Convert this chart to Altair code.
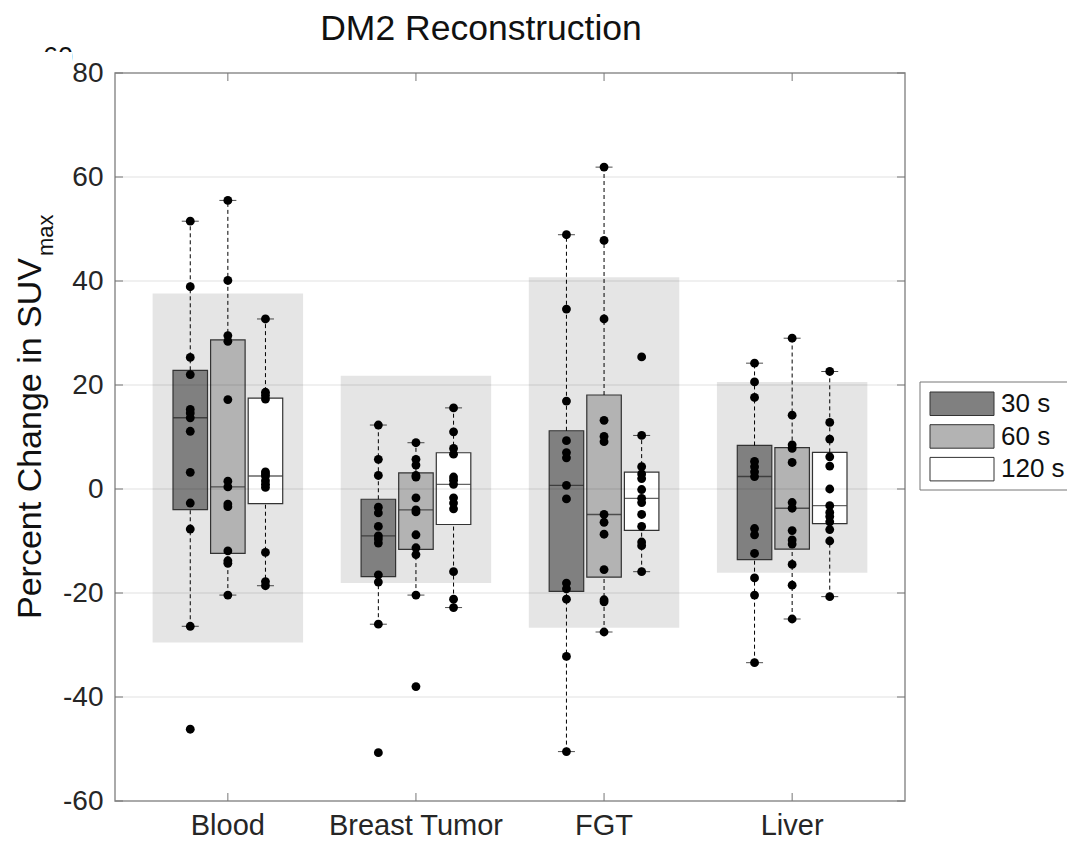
import altair as alt
import pandas as pd
import math

# ---------------- data ----------------
categories = ["Blood", "Breast Tumor", "FGT", "Liver"]
durations = ["30 s", "60 s", "120 s"]
box_fills = ["#808080", "#b3b3b3", "#ffffff"]

blood_30 = [51.5, 38.9, 25.3, 22.0, 15.3, 14.6, 13.7, 11.1, 3.2, -2.7, -7.7, -26.4, -46.2]
blood_60 = [55.5, 40.1, 29.5, 28.4, 17.2, 1.5, 0.4, -2.9, -3.4, -11.9, -13.8, -14.3, -20.4]
blood_120 = [32.7, 18.6, 18.0, 17.3, 3.3, 2.9, 2.5, 1.6, 0.9, 0.3, -12.2, -17.8, -18.6]
tumor_30 = [12.3, 5.7, 2.6, -3.5, -4.6, -7.2, -9.0, -9.6, -10.4, -16.5, -17.9, -26.0, -50.7]
tumor_60 = [8.9, 5.7, 4.6, 2.6, 2.3, -1.7, -4.0, -4.4, -8.8, -11.3, -12.6, -20.4, -38.0]
tumor_120 = [15.6, 11.0, 7.8, 6.7, 2.3, 1.7, 0.9, -1.7, -2.7, -3.8, -15.9, -21.2, -22.8]
fgt_30 = [48.9, 34.6, 16.9, 9.3, 7.0, 6.0, 0.7, -1.9, -18.1, -19.2, -21.2, -32.2, -50.5]
fgt_60 = [61.9, 47.8, 32.7, 13.2, 10.1, 9.1, -4.9, -6.4, -8.7, -15.5, -21.3, -21.7, -27.5]
fgt_120 = [25.4, 10.3, 4.3, 2.9, 2.0, -0.1, -1.8, -2.6, -4.9, -7.2, -10.2, -10.9, -15.9]
liver_30 = [24.2, 20.6, 17.6, 5.3, 4.3, 3.3, 2.4, -7.6, -8.8, -12.4, -17.1, -20.4, -33.4]
liver_60 = [29.0, 14.2, 8.5, 7.8, 5.1, -2.6, -3.7, -8.0, -9.8, -10.6, -14.5, -18.5, -25.0]
liver_120 = [22.6, 12.8, 9.6, 6.2, 4.4, 0.0, -3.2, -4.5, -5.3, -6.3, -7.8, -10.0, -20.7]

# shaded reference band per region
range_lo = [-29.5, -18.1, -26.7, -16.1]
range_hi = [37.6, 21.8, 40.7, 20.6]

y_ticks = [-60, -40, -20, 0, 20, 40, 60, 80]
grid_vals = [-40, -20, 0, 20, 40, 60]

series = {
    ("Blood", "30 s"): blood_30, ("Blood", "60 s"): blood_60, ("Blood", "120 s"): blood_120,
    ("Breast Tumor", "30 s"): tumor_30, ("Breast Tumor", "60 s"): tumor_60, ("Breast Tumor", "120 s"): tumor_120,
    ("FGT", "30 s"): fgt_30, ("FGT", "60 s"): fgt_60, ("FGT", "120 s"): fgt_120,
    ("Liver", "30 s"): liver_30, ("Liver", "60 s"): liver_60, ("Liver", "120 s"): liver_120,
}


def mquant(v, p):
    s = sorted(v)
    n = len(s)
    pos = p * n + 0.5
    if pos <= 1:
        return s[0]
    if pos >= n:
        return s[-1]
    k = int(math.floor(pos))
    f = pos - k
    return s[k - 1] + f * (s[k] - s[k - 1])


pts_rows, stat_rows = [], []
for (cat, dur), vals in series.items():
    for v in vals:
        pts_rows.append({"category": cat, "duration": dur, "value": v})
    q1, med, q3 = mquant(vals, 0.25), mquant(vals, 0.5), mquant(vals, 0.75)
    iqr = q3 - q1
    wlo = min(v for v in vals if v >= q1 - 1.5 * iqr)
    whi = max(v for v in vals if v <= q3 + 1.5 * iqr)
    stat_rows.append({"category": cat, "duration": dur, "q1": q1, "med": med,
                      "q3": q3, "wlo": wlo, "whi": whi})

pts = pd.DataFrame(pts_rows)
stats = pd.DataFrame(stat_rows)
ranges = pd.DataFrame({"category": categories, "lo": range_lo, "hi": range_hi})
grid = pd.DataFrame({"g": grid_vals})
yt = pd.DataFrame({"t": y_ticks})
xt = pd.DataFrame({"category": categories})

W, H = 790, 728
FONT = "Liberation Sans"
TXT = "#262626"

xscale = alt.Scale(domain=categories, paddingInner=0, paddingOuter=0.1)
xaxis = alt.Axis(labelFontSize=29, labelFont=FONT, labelColor=TXT, labelAngle=0,
                 labelPadding=10, ticks=False, domain=False, grid=False, title=None)
BAND = W / 4.2
STEP = 37.6
offscale = alt.Scale(domain=durations, paddingInner=0.082, paddingOuter=0.041,
                     range=[BAND / 2 - 1.5 * STEP, BAND / 2 + 1.5 * STEP])
yscale = alt.Scale(domain=[-60, 80], nice=False, zero=False)
yaxis = alt.Axis(values=y_ticks, labelFontSize=28, labelFont=FONT, labelColor=TXT,
                 labelExpr="'' + datum.value",
                 labelPadding=12, ticks=False, domain=False, grid=False, title=None)


def X():
    return alt.X("category:N", scale=xscale, axis=xaxis, title=None)


def XO():
    return alt.XOffset("duration:N", scale=offscale)


def Y(f):
    return alt.Y(f"{f}:Q", scale=yscale, axis=yaxis, title=None)


def Y2(f):
    return alt.Y2(f"{f}:Q")


shade = alt.Chart(ranges).mark_bar(fill="black", opacity=0.1,
                                   width=alt.RelativeBandSize(0.8)).encode(
    x=X(), y=Y("lo"), y2=Y2("hi"))

gridl = alt.Chart(grid).mark_rule(color="black", opacity=0.08, strokeWidth=1.5).encode(
    y=Y("g"), x=alt.value(0), x2=alt.value(W))

base = alt.Chart(stats)
boxes = base.mark_bar(stroke="#333333", strokeWidth=1.2).encode(
    x=X(), xOffset=XO(), y=Y("q1"), y2=Y2("q3"),
    fill=alt.Fill("duration:N", scale=alt.Scale(domain=durations, range=box_fills), legend=None))
medians = base.mark_tick(orient="horizontal", size=34, thickness=1.3, color="#222222").encode(
    x=X(), xOffset=XO(), y=Y("med"))
wh_up = base.mark_rule(color="black", strokeWidth=1, strokeDash=[4, 3]).encode(
    x=X(), xOffset=XO(), y=Y("q3"), y2=Y2("whi"))
wh_dn = base.mark_rule(color="black", strokeWidth=1, strokeDash=[4, 3]).encode(
    x=X(), xOffset=XO(), y=Y("wlo"), y2=Y2("q1"))
cap_up = base.mark_tick(orient="horizontal", size=17, thickness=1, color="black").encode(
    x=X(), xOffset=XO(), y=Y("whi"))
cap_dn = base.mark_tick(orient="horizontal", size=17, thickness=1, color="black").encode(
    x=X(), xOffset=XO(), y=Y("wlo"))
dots = alt.Chart(pts).mark_circle(color="black", opacity=1, size=78).encode(
    x=X(), xOffset=XO(), y=Y("value"))

TICKC = "#777777"
tk_l = alt.Chart(yt).mark_rule(color=TICKC, strokeWidth=1).encode(
    y=Y("t"), x=alt.value(0), x2=alt.value(8))
tk_r = alt.Chart(yt).mark_rule(color=TICKC, strokeWidth=1).encode(
    y=Y("t"), x=alt.value(W - 8), x2=alt.value(W))
tk_b = alt.Chart(xt).mark_rule(color=TICKC, strokeWidth=1).encode(
    x=X(), y=alt.value(H - 8), y2=alt.value(H))
tk_t = alt.Chart(xt).mark_rule(color=TICKC, strokeWidth=1).encode(
    x=X(), y=alt.value(0), y2=alt.value(8))


def label(text, x, y, size, align="left", baseline="alphabetic", angle=0):
    kw = dict(font=FONT, fontSize=size, color="#111111", align=align, baseline=baseline)
    if angle:
        kw["angle"] = angle
    return alt.Chart(pd.DataFrame({"t": [text]})).mark_text(**kw).encode(
        text="t:N", x=alt.value(x), y=alt.value(y))


title = label("DM2 Reconstruction", 366, -33, 35.5, align="center")
ytitle = label("Percent Change in SUV", -74, 185, 34, align="right", angle=270)
ysub = label("max", -62, 183, 22, align="left", angle=270)

# clipped stray "60" at top-left
stray = label("60", -42, -7, 27, align="right")
stray_mask = alt.Chart(pd.DataFrame({"t": [0]})).mark_rect(fill="white").encode(
    x=alt.value(-80), x2=alt.value(-43), y=alt.value(-21), y2=alt.value(-3))

# legend (manual)
leg_frame = alt.Chart(pd.DataFrame({"t": [0]})).mark_rect(
    fill="white", stroke="#777777", strokeWidth=1).encode(
    x=alt.value(805), x2=alt.value(980), y=alt.value(309), y2=alt.value(417))
leg_layers = [leg_frame]
for i, (d, c) in enumerate(zip(durations, box_fills)):
    y0 = 319 + i * 32.7
    leg_layers.append(alt.Chart(pd.DataFrame({"t": [d]})).mark_rect(
        fill=c, stroke="#333333", strokeWidth=1).encode(
        x=alt.value(815), x2=alt.value(879), y=alt.value(y0), y2=alt.value(y0 + 23.5)))
    leg_layers.append(label(d, 886, y0 + 12, 26, align="left", baseline="middle"))

chart = alt.layer(
    shade, boxes, medians, gridl, wh_up, wh_dn, cap_up, cap_dn, dots,
    tk_l, tk_r, tk_b, tk_t, title, ytitle, ysub, stray, stray_mask, *leg_layers
).properties(
    width=W, height=H,
    autosize=alt.AutoSizeParams(type="none"),
    padding={"left": 115, "top": 73, "right": 162, "bottom": 42},
    background="white",
).configure_view(stroke="#8f8f8f", strokeWidth=1.5)

chart.save("out.html", embed_options={"renderer": "svg", "actions": False})
